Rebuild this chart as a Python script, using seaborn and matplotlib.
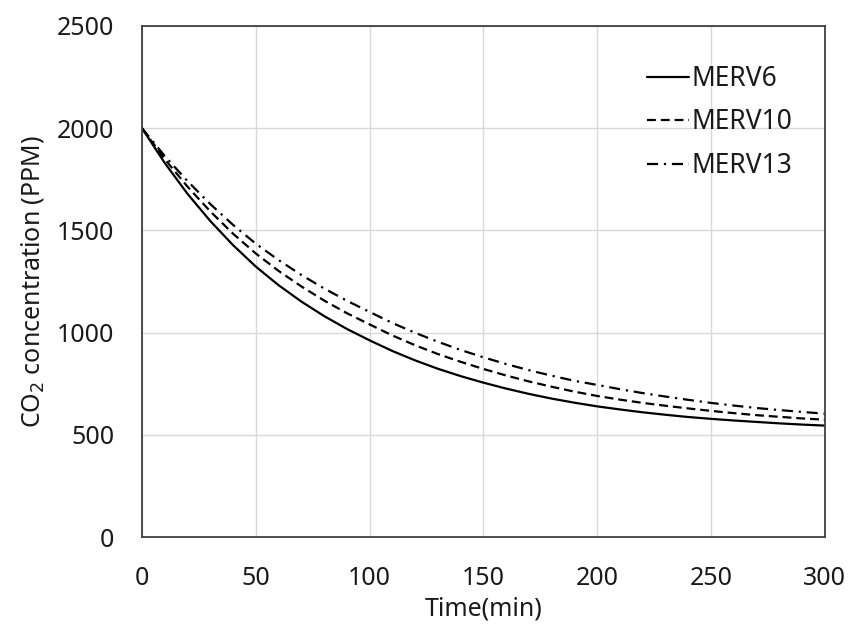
import matplotlib
matplotlib.use("Agg")
import matplotlib.pyplot as plt
import seaborn as sns
import pandas as pd

# Time axis in minutes and CO2 concentration (ppm) for each filter grade
time_min = [0, 10, 20, 30, 40, 50, 60, 70, 80, 90, 100, 110, 120, 130, 140, 150,
            160, 170, 180, 190, 200, 210, 220, 230, 240, 250, 260, 270, 280, 290, 300]
merv6 = [2000, 1830, 1679, 1546, 1428, 1323, 1232, 1152, 1081, 1018, 962, 910, 864, 823,
         787, 755, 726, 700, 677, 657, 639, 624, 610, 598, 587, 578, 570, 563, 556, 550, 545]
merv10 = [2000, 1849, 1714, 1593, 1484, 1387, 1302, 1226, 1157, 1095, 1040, 986, 938, 895,
          857, 822, 790, 761, 735, 711, 690, 672, 656, 642, 629, 617, 606, 596, 588, 580, 574]
merv13 = [2000, 1864, 1741, 1629, 1527, 1435, 1355, 1282, 1216, 1156, 1101, 1047, 999, 955,
          915, 879, 846, 816, 789, 764, 744, 723, 704, 687, 671, 656, 643, 631, 621, 612, 603]
series_names = ["MERV6", "MERV10", "MERV13"]

df = pd.DataFrame({"Time": time_min, "MERV6": merv6, "MERV10": merv10, "MERV13": merv13})
long = df.melt(id_vars="Time", var_name="Filter", value_name="CO2")

sns.set_theme(style="white")
plt.rcParams["font.family"] = ["Noto Sans", "DejaVu Sans"]

fig = plt.figure(figsize=(8.5, 6.24), dpi=100)
ax = fig.add_axes([0.167, 0.1394, 0.8035, 0.819])

styles = {"MERV6": "-", "MERV10": (0, (4, 2.2)), "MERV13": (0, (5, 2.6, 1, 2.6))}
for name in series_names:
    sub = long[long["Filter"] == name]
    sns.lineplot(data=sub, x="Time", y="CO2", ax=ax, color="black", lw=1.6,
                 linestyle=styles[name], label=name)

ax.set_xlim(0, 300)
ax.set_ylim(0, 2500)
ax.set_xticks(range(0, 301, 50))
ax.set_yticks(range(0, 2501, 500))
ax.grid(True, color="#d9d9d9", lw=1.0)
for s in ax.spines.values():
    s.set_color("#404040")
    s.set_linewidth(1.3)
ax.tick_params(axis="both", length=0, labelsize=18, colors="#1a1a1a")
ax.tick_params(axis="x", pad=21)
ax.tick_params(axis="y", pad=20)
ax.set_xlabel("Time(min)", fontsize=18, color="#1a1a1a", labelpad=4)
ax.set_ylabel("CO$_2$ concentration (PPM)", fontsize=18, color="#1a1a1a", labelpad=8)

leg = ax.legend(loc="upper right", bbox_to_anchor=(0.952, 0.924), frameon=False,
                borderaxespad=0, borderpad=0,
                fontsize=19, handlelength=1.6, handletextpad=0.08, labelspacing=0.59)
for t in leg.get_texts():
    t.set_color("#1a1a1a")

fig.savefig("out.png", dpi=100, facecolor="white")
